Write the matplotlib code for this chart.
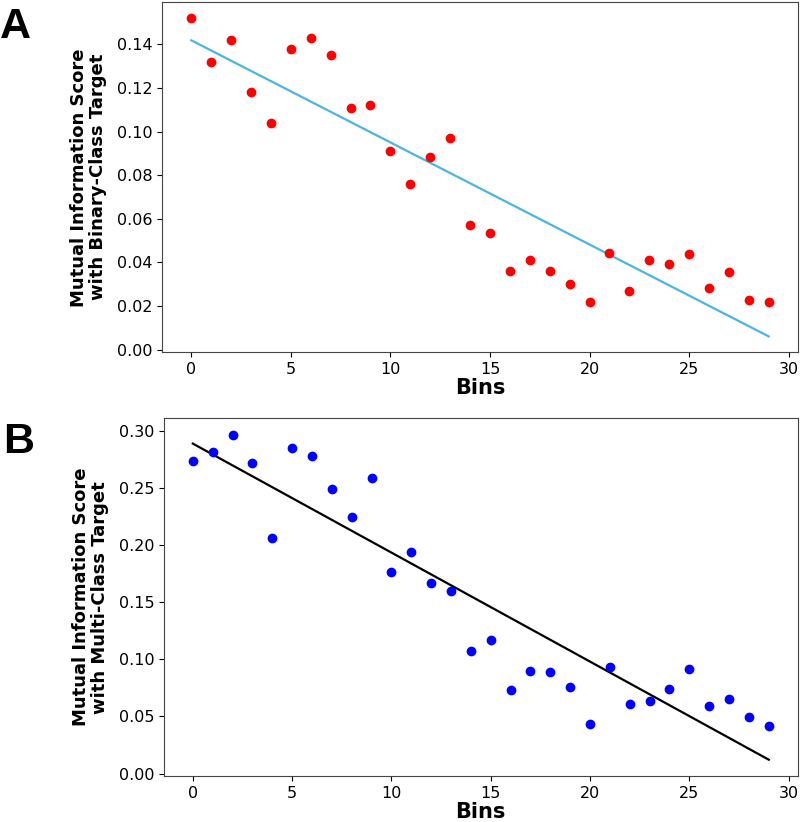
import numpy as np
import matplotlib
matplotlib.use("Agg")
import matplotlib.pyplot as plt

bins = np.arange(30)

# mutual information with binary-class target
mi_binary = [0.152, 0.132, 0.142, 0.118, 0.104, 0.138, 0.143, 0.135, 0.111, 0.112,
             0.091, 0.076, 0.0885, 0.097, 0.0573, 0.0535, 0.0359, 0.0413, 0.0359, 0.0301,
             0.0220, 0.0443, 0.0268, 0.0413, 0.0391, 0.0439, 0.0281, 0.0355, 0.0229, 0.0220]

# mutual information with multi-class target
mi_multi = [0.2737, 0.2816, 0.2971, 0.2720, 0.2069, 0.2857, 0.2785, 0.2492, 0.2247, 0.2588,
            0.1765, 0.1938, 0.1673, 0.1599, 0.1071, 0.1173, 0.0735, 0.0898, 0.0890, 0.0758,
            0.0432, 0.0931, 0.0613, 0.0639, 0.0744, 0.0913, 0.0589, 0.0653, 0.0493, 0.0417]

fig = plt.figure(figsize=(8, 8.22), dpi=100)
ax_a = fig.add_axes([0.203, 0.5714, 0.794, 0.4258])
ax_b = fig.add_axes([0.205, 0.056, 0.792, 0.435])

panels = [
    (ax_a, mi_binary, "red", "#4ab6e0", "Mutual Information Score\nwith Binary-Class Target"),
    (ax_b, mi_multi, "blue", "black", "Mutual Information Score\nwith Multi-Class Target"),
]

for ax, vals, dot_col, line_col, ylab in panels:
    ax.scatter(bins, vals, s=36, color=dot_col, zorder=3)
    # linear trend
    k, b = np.polyfit(bins, vals, 1)
    ax.plot(bins, k * bins + b, color=line_col, lw=1.6)
    ax.set_xlabel("Bins", fontsize=15, fontweight="bold", labelpad=1)
    ax.set_ylabel(ylab, fontsize=13, fontweight="bold", labelpad=7, linespacing=1.1)
    ax.tick_params(labelsize=11.5)
    ax.set_xticks([0, 5, 10, 15, 20, 25, 30])
    for sp in ax.spines.values():
        sp.set_color("#444444")

ax_a.set_yticks(np.arange(0, 0.141, 0.02))
ax_b.set_yticks(np.arange(0, 0.301, 0.05))

fig.text(0.0, 1 - 38 / 822, "A", fontsize=31, fontweight="bold", family="Liberation Sans",
         ha="left", va="baseline")
fig.text(0.004, 1 - 453 / 822, "B", fontsize=31, fontweight="bold", family="Liberation Sans",
         ha="left", va="baseline")

fig.savefig("out.png", dpi=100)
